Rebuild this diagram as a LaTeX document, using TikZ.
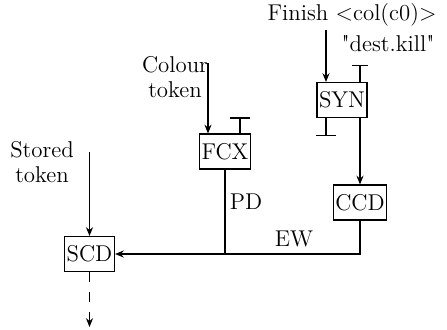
\documentclass[tikz,border=0pt]{standalone}
\usepackage{fontspec}
\usepackage{tikz}
\usetikzlibrary{arrows.meta}

\tikzset{
	unit/.style={draw, line width=0.6pt, minimum width=1cm, minimum height=0.7cm, inner sep=1pt},
	flow/.style={-{Stealth[length=5pt,width=4pt]}, line width=0.6pt},
	halt/.style={-{Bar[width=#1]}, line width=0.6pt},
}

\begin{document}
\begin{tikzpicture}[x=0.02cm, y=-0.02cm, font=\fontsize{13}{14.5}\selectfont]
		\useasboundingbox (0,0) rectangle (447,329);
		% units
		\node[unit] (syn) at (342,100) {SYN};
		\node[unit] (ccd) at (360,202.5) {CCD};
		\node[unit] (fcx) at (225,151.5) {FCX};
		\node[unit] (scd) at (89.5,254) {SCD};
		% labels
		\node (finish) at (352,15) {Finish <col(c0)>};
		\node (kill) at (388,44) {\textquotedbl dest.kill\textquotedbl};
		\node[align=center] (colour) at (175,77) {Colour\\token};
		\node[align=center] (stored) at (42,162) {Stored\\token};
		\node (pd) at (246,202) {PD};
		\node (ew) at (294,239) {EW};
		% free ends
		\coordinate (finishin) at (326,30);
		\coordinate (colourin) at (208,63);
		\coordinate (storedin) at (89.5,152);
		\coordinate (scdout) at (89.5,327);
		% connections
		\draw[flow] (finishin) -- (finishin |- syn.north);
		\draw[halt=9pt] (syn.north -| ccd.north) -- ++(0,-17);
		\draw[halt=11pt] (finishin |- syn.south) -- ++(0,18);
		\draw[flow] (syn.south -| ccd.north) -- (ccd.north);
		\draw[flow] (colourin) -- (colourin |- fcx.north);
		\draw[halt=11pt] ([xshift=0.3cm]fcx.north) -- ++(0,-16);
		\draw[line width=0.6pt] (fcx.south) -- (fcx.south |- scd.east);
		\draw[flow] (ccd.south) |- (scd.east);
		\draw[flow] (storedin) -- (scd.north);
		\draw[flow, dash pattern=on 5.7pt off 5.7pt] (scd.south) -- (scdout);
	\end{tikzpicture}
\end{document}
